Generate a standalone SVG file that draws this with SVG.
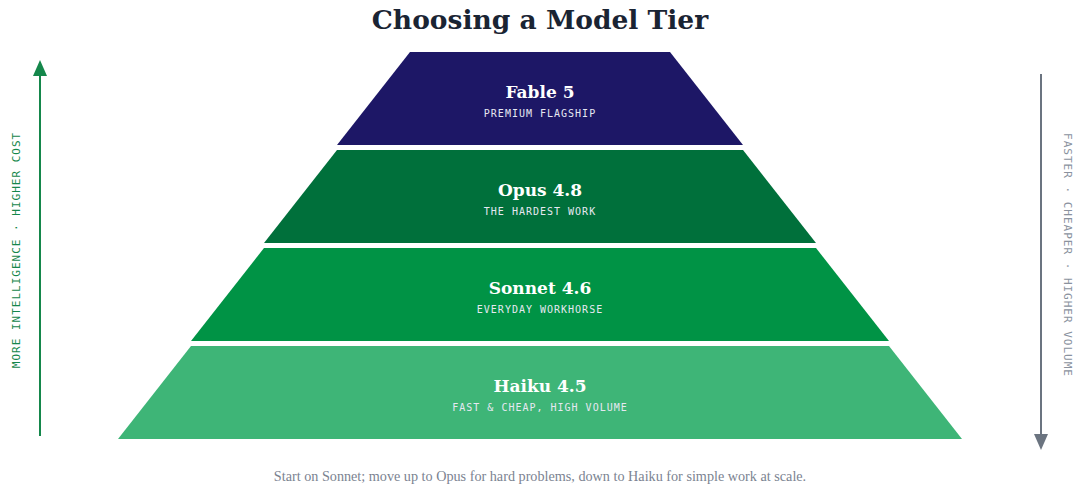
<svg xmlns="http://www.w3.org/2000/svg" width="1075" height="486" viewBox="0 0 1075 486">
<style>
.title{font-family:"DejaVu Serif","Liberation Serif",serif;font-weight:bold;font-size:26.5px;fill:#1a2433;text-anchor:middle}
.name{font-family:"DejaVu Serif","Liberation Serif",serif;font-weight:bold;font-size:17px;fill:#ffffff;text-anchor:middle}
.sub{font-family:"DejaVu Sans Mono","Liberation Mono",monospace;font-size:10px;letter-spacing:1px;fill:#e6e8f2;text-anchor:middle}
.axis{font-family:"DejaVu Sans Mono","Liberation Mono",monospace;font-size:11px;letter-spacing:1px;text-anchor:middle}
.cap{font-family:"Liberation Serif",serif;font-size:14.2px;fill:#7b8391;text-anchor:middle}
</style>
<defs>
<marker id="upG" markerWidth="16" markerHeight="14" refX="2" refY="7" orient="auto" markerUnits="userSpaceOnUse" viewBox="0 0 16 14"><path d="M0,0 L16,7 L0,14 z" fill="#15874b"/></marker>
<marker id="dnG" markerWidth="16" markerHeight="14" refX="2" refY="7" orient="auto" markerUnits="userSpaceOnUse" viewBox="0 0 16 14"><path d="M0,0 L16,7 L0,14 z" fill="#6b7480"/></marker>
</defs>
<rect width="1075" height="486" fill="#ffffff"/>
<text class="title" x="540" y="29">Choosing a Model Tier</text>
<g id="tier-fable">
<polygon points="410,52 670,52 743,145 337,145" fill="#1d1766"/>
<text class="name" x="540" y="98">Fable 5</text>
<text class="sub" x="540" y="117">PREMIUM FLAGSHIP</text>
</g>
<g id="tier-opus">
<polygon points="337,150 743,150 816,243 264,243" fill="#00703b"/>
<text class="name" x="540" y="196">Opus 4.8</text>
<text class="sub" x="540" y="215">THE HARDEST WORK</text>
</g>
<g id="tier-sonnet">
<polygon points="264,248 816,248 889,341 191,341" fill="#009345"/>
<text class="name" x="540" y="294">Sonnet 4.6</text>
<text class="sub" x="540" y="313">EVERYDAY WORKHORSE</text>
</g>
<g id="tier-haiku">
<polygon points="191,346 889,346 962,439 118,439" fill="#3eb577"/>
<text class="name" x="540" y="392">Haiku 4.5</text>
<text class="sub" x="540" y="411">FAST &amp; CHEAP, HIGH VOLUME</text>
</g>
<g id="connectors">
<line x1="40" y1="436" x2="40" y2="74" stroke="#15874b" stroke-width="2" marker-end="url(#upG)"/>
<line x1="1041" y1="74" x2="1041" y2="436" stroke="#6b7480" stroke-width="2" marker-end="url(#dnG)"/>
</g>
<text class="axis" fill="#15874b" transform="translate(20,250) rotate(-90)">MORE INTELLIGENCE · HIGHER COST</text>
<text class="axis" fill="#8a929e" transform="translate(1064,255) rotate(90)">FASTER · CHEAPER · HIGHER VOLUME</text>
<text class="cap" x="540" y="481">Start on Sonnet; move up to Opus for hard problems, down to Haiku for simple work at scale.</text>
</svg>
